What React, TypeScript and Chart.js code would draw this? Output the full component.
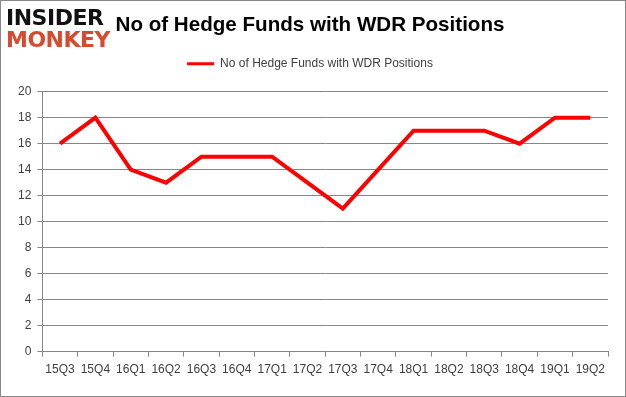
import React, { useEffect, useRef } from "react";
import { Chart, registerables } from "chart.js";

Chart.register(...registerables);

const categories = ["15Q3", "15Q4", "16Q1", "16Q2", "16Q3", "16Q4", "17Q1", "17Q2", "17Q3", "17Q4", "18Q1", "18Q2", "18Q3", "18Q4", "19Q1", "19Q2"];
const hedgeFunds = [16, 18, 14, 13, 15, 15, 15, 13, 11, 14, 17, 17, 17, 16, 18, 18];
const seriesName = "No of Hedge Funds with WDR Positions";
const titleText = "No of Hedge Funds with WDR Positions";

const legendSpacer = {
  id: "legendSpacer",
  beforeInit(chart: any) {
    const orig = chart.legend.fit;
    chart.legend.fit = function () {
      orig.call(this);
      this.height += 12;
    };
  },
};

export default function App() {
  const ref = useRef<HTMLCanvasElement>(null);
  useEffect(() => {
    document.body.style.margin = "0";
    const chart = new Chart(ref.current!, {
      type: "line",
      data: {
        labels: categories,
        datasets: [
          {
            label: seriesName,
            data: hedgeFunds,
            borderColor: "#ff0000",
            backgroundColor: "#ff0000",
            borderWidth: 4,
            pointRadius: 0,
            tension: 0,
          },
        ],
      },
      plugins: [legendSpacer],
      options: {
        responsive: false,
        animation: false,
        layout: { padding: { left: 11, right: 17, top: 0, bottom: 13 } },
        plugins: {
          title: {
            display: true,
            text: titleText,
            color: "#000",
            font: { family: "'Liberation Sans', sans-serif", size: 20.6, weight: "bold" },
            padding: { top: 12, bottom: 10 },
          },
          legend: {
            display: true,
            labels: {
              boxWidth: 27,
              boxHeight: 3,
              color: "#404040",
              font: { family: "'Liberation Sans', sans-serif", size: 12 },
              generateLabels(chart: any) {
                const items = Chart.defaults.plugins.legend.labels.generateLabels(chart);
                return items.map((it: any) => ({ ...it, lineWidth: 0, fillStyle: "#ff0000", strokeStyle: "#ff0000" }));
              },
            },
          },
          tooltip: { enabled: false },
        },
        scales: {
          x: {
            offset: true,
            grid: { offset: true, drawOnChartArea: false, drawTicks: true, tickLength: 5, color: "#868686" },
            border: { color: "#868686" },
            ticks: { color: "#404040", font: { family: "'Liberation Sans', sans-serif", size: 12 }, padding: 6, maxRotation: 0, autoSkip: false },
          },
          y: {
            min: 0,
            max: 20,
            grid: { color: "#868686", tickLength: 5 },
            border: { color: "#868686" },
            ticks: { stepSize: 2, color: "#404040", font: { family: "'Liberation Sans', sans-serif", size: 12 }, padding: 6 },
          },
        },
      },
    });
    return () => chart.destroy();
  }, []);

  return (
    <div style={{ position: "fixed", left: 0, top: 0, width: 626, height: 397, boxSizing: "border-box", border: "1px solid #888", background: "#fff", overflow: "hidden" }}>
      <canvas ref={ref} width={624} height={395} style={{ position: "absolute", left: 0, top: 0 }} />
      <div style={{ position: "absolute", left: 5, top: 6, fontFamily: "'DejaVu Sans', sans-serif", fontWeight: 900, lineHeight: "22px", letterSpacing: "-0.5px" }}>
        <div style={{ color: "#111", fontSize: 22 }}>INSIDER</div>
        <div style={{ color: "#d9492e", fontSize: 22 }}>MONKEY</div>
      </div>
    </div>
  );
}
